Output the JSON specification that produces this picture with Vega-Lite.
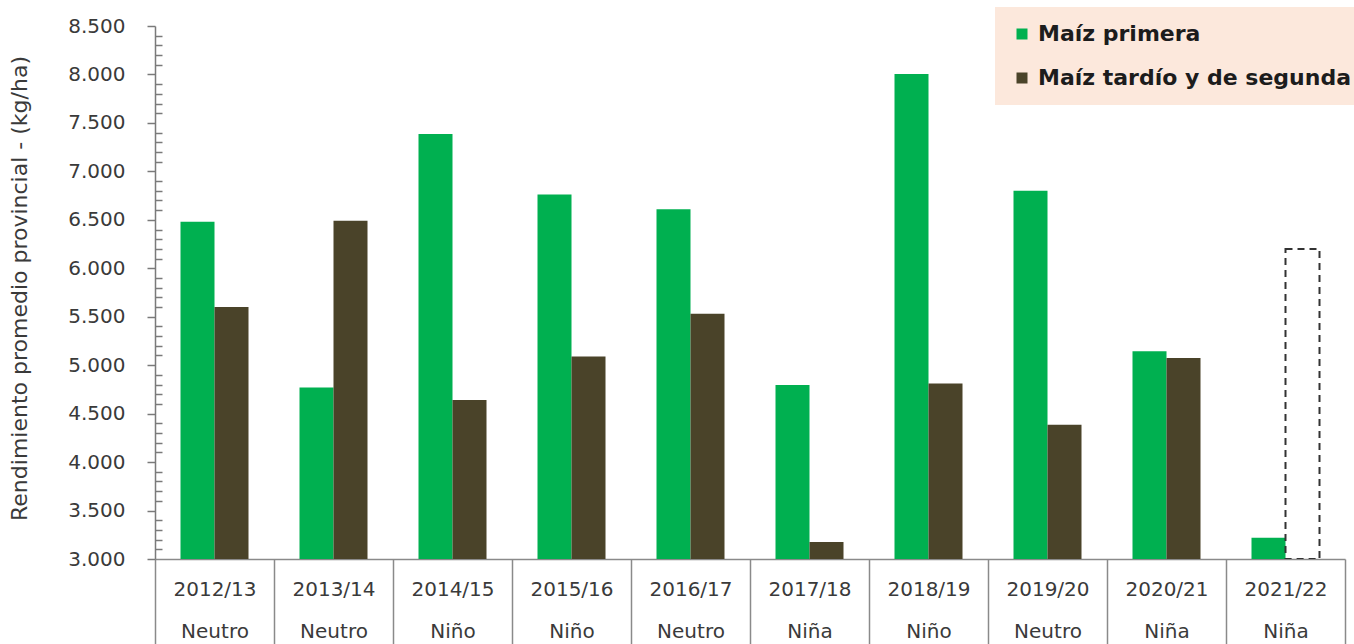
{
  "$schema": "https://vega.github.io/schema/vega-lite/v6.json",
  "width": 1190,
  "height": 533,
  "autosize": "none",
  "padding": {"left": 155, "top": 26, "right": 9, "bottom": 85},
  "background": "white",
  "config": {"view": {"stroke": null}, "font": "DejaVu Sans"},
  "data": {"values": [
    {"campana": "2012/13|Neutro", "serie": "Maíz primera", "valor": 6480, "tipo": "real"},
    {"campana": "2012/13|Neutro", "serie": "Maíz tardío y de segunda", "valor": 5600, "tipo": "real"},
    {"campana": "2013/14|Neutro", "serie": "Maíz primera", "valor": 4770, "tipo": "real"},
    {"campana": "2013/14|Neutro", "serie": "Maíz tardío y de segunda", "valor": 6490, "tipo": "real"},
    {"campana": "2014/15|Niño", "serie": "Maíz primera", "valor": 7385, "tipo": "real"},
    {"campana": "2014/15|Niño", "serie": "Maíz tardío y de segunda", "valor": 4640, "tipo": "real"},
    {"campana": "2015/16|Niño", "serie": "Maíz primera", "valor": 6760, "tipo": "real"},
    {"campana": "2015/16|Niño", "serie": "Maíz tardío y de segunda", "valor": 5090, "tipo": "real"},
    {"campana": "2016/17|Neutro", "serie": "Maíz primera", "valor": 6610, "tipo": "real"},
    {"campana": "2016/17|Neutro", "serie": "Maíz tardío y de segunda", "valor": 5530, "tipo": "real"},
    {"campana": "2017/18|Niña", "serie": "Maíz primera", "valor": 4795, "tipo": "real"},
    {"campana": "2017/18|Niña", "serie": "Maíz tardío y de segunda", "valor": 3175, "tipo": "real"},
    {"campana": "2018/19|Niño", "serie": "Maíz primera", "valor": 8005, "tipo": "real"},
    {"campana": "2018/19|Niño", "serie": "Maíz tardío y de segunda", "valor": 4810, "tipo": "real"},
    {"campana": "2019/20|Neutro", "serie": "Maíz primera", "valor": 6800, "tipo": "real"},
    {"campana": "2019/20|Neutro", "serie": "Maíz tardío y de segunda", "valor": 4385, "tipo": "real"},
    {"campana": "2020/21|Niña", "serie": "Maíz primera", "valor": 5145, "tipo": "real"},
    {"campana": "2020/21|Niña", "serie": "Maíz tardío y de segunda", "valor": 5075, "tipo": "real"},
    {"campana": "2021/22|Niña", "serie": "Maíz primera", "valor": 3220, "tipo": "real"},
    {"campana": "2021/22|Niña", "serie": "Maíz tardío y de segunda", "valor": 6200, "tipo": "estimado"}
  ]},
  "encoding": {
    "x": {
      "field": "campana", "type": "nominal", "sort": null,
      "scale": {"paddingInner": 0, "paddingOuter": 0},
      "axis": {
        "title": null,
        "labelAngle": 0,
        "labelExpr": "isString(datum.value) ? split(datum.value, '|') : ''",
        "labelFont": "DejaVu Sans",
        "labelFontSize": 20,
        "labelColor": "#3a3a3a",
        "labelBaseline": "top",
        "labelLineHeight": 42,
        "labelPadding": -65,
        "tickBand": "extent",
        "tickSize": 85,
        "tickColor": "#8a8a8a",
        "tickWidth": 1.5,
        "domainColor": "#8a8a8a",
        "domainWidth": 1.5
      }
    },
    "xOffset": {
      "field": "serie", "type": "nominal",
      "scale": {"domain": ["Maíz primera", "Maíz tardío y de segunda"], "paddingInner": 0, "paddingOuter": 0.75}
    },
    "y": {
      "field": "valor", "type": "quantitative",
      "scale": {"domain": [3000, 8500], "zero": false, "nice": false},
      "axis": {
        "title": "Rendimiento promedio provincial - (kg/ha)",
        "titleFont": "DejaVu Sans",
        "titleFontSize": 22,
        "titleFontWeight": "normal",
        "titleColor": "#3a3a3a",
        "titleAngle": -90,
        "titleAlign": "center",
        "titleBaseline": "middle",
        "titleX": -136,
        "titleY": 262,
        "grid": false,
        "values": [3000,3100,3200,3300,3400,3500,3600,3700,3800,3900,4000,4100,4200,4300,4400,4500,4600,4700,4800,4900,5000,5100,5200,5300,5400,5500,5600,5700,5800,5900,6000,6100,6200,6300,6400,6500,6600,6700,6800,6900,7000,7100,7200,7300,7400,7500,7600,7700,7800,7900,8000,8100,8200,8300,8400,8500],
        "labelExpr": "datum.value % 500 === 0 ? replace(format(datum.value, ','), ',', '.') : ''",
        "labelOverlap": false,
        "labelFont": "DejaVu Sans",
        "labelFontSize": 20,
        "labelColor": "#3a3a3a",
        "labelPadding": 22,
        "tickSize": {"condition": {"test": "datum.value % 500 === 0", "value": 8}, "value": -7},
        "tickColor": "#7a7a7a",
        "tickWidth": 1.5,
        "domainColor": "#7a7a7a",
        "domainWidth": 1.5
      }
    },
    "y2": {"datum": 3000}
  },
  "layer": [
    {
      "transform": [{"filter": "datum.tipo === 'real'"}],
      "mark": {"type": "bar", "clip": true},
      "encoding": {
        "color": {
          "field": "serie", "type": "nominal",
          "scale": {"domain": ["Maíz primera", "Maíz tardío y de segunda"], "range": ["#00B050", "#4A4329"]},
          "legend": {
            "title": null,
            "orient": "none",
            "legendX": 840,
            "legendY": -19,
            "padding": 16,
            "fillColor": "#FCE8DC",
            "strokeColor": null,
            "symbolType": "square",
            "symbolSize": 121,
            "symbolStrokeWidth": 0,
            "symbolOpacity": 1,
            "labelFont": "DejaVu Sans",
            "labelFontSize": 22,
            "labelFontWeight": "bold",
            "labelColor": "#1c1c1c",
            "labelOffset": 5,
            "rowPadding": 22,
            "labelLimit": 400
          }
        }
      }
    },
    {
      "transform": [{"filter": "datum.tipo === 'estimado'"}],
      "mark": {"type": "bar", "fill": "transparent", "stroke": "#333333", "strokeWidth": 2, "strokeDash": [7, 5], "clip": true}
    }
  ]
}
